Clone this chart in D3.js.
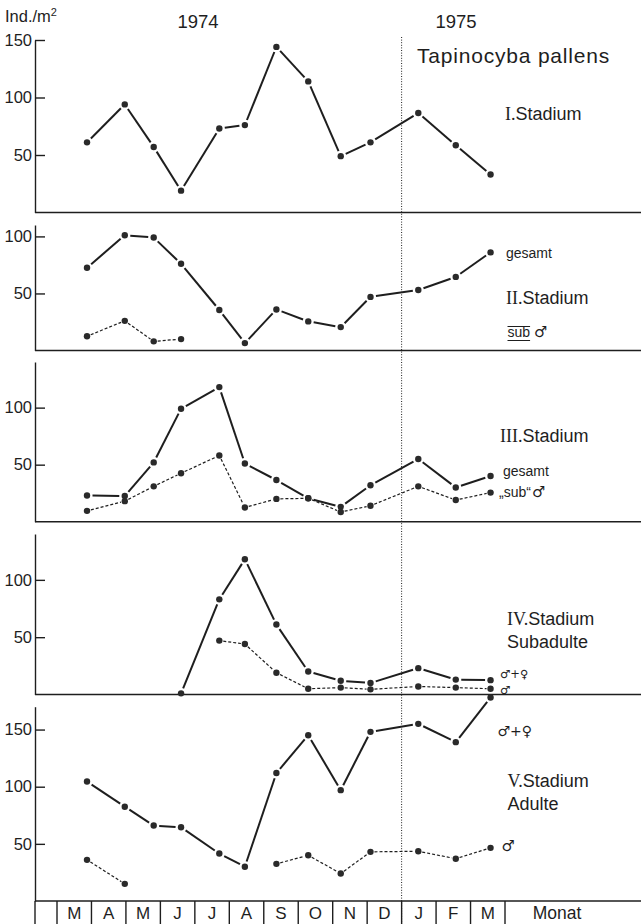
<!DOCTYPE html>
<html>
<head>
<meta charset="utf-8">
<script src="https://cdn.jsdelivr.net/npm/d3@7"></script>
<style>
  html, body { margin: 0; padding: 0; background: #fff; }
  svg { display: block; }
  text { font-family: "Liberation Sans", Arial, sans-serif; fill: #1e1e1e; }
  text.sym { font-family: "DejaVu Sans"; }
</style>
</head>
<body>
<svg id="chart" width="641" height="924"></svg>
<script>
// ---------------- data ----------------
const months = ["M", "A", "M", "J", "J", "A", "S", "O", "N", "D", "J", "F", "M"];
const sampleDates = ["1974-03-28", "1974-04-30", "1974-05-26", "1974-06-19", "1974-07-23",
  "1974-08-15", "1974-09-12", "1974-10-10", "1974-11-08", "1974-12-04",
  "1975-01-16", "1975-02-17", "1975-03-19"];

const stageI      = [61, 94, 57, 19, 73, 76, 144, 114, 49, 61, 86.5, 58.5, 33];
const stageIIall  = [72.5, 101, 99, 76, 35.5, 6.5, 36, 25.5, 20.5, 47, 53, 64.5, 86];
const stageIIsub  = [12.5, 26, 8, 10, null, null, null, null, null, null, null, null, null];
const stageIIIall = [23, 22.5, 52, 99, 118, 51, 36.5, 20.5, 13, 32, 55, 30, 40];
const stageIIIsub = [9.5, 18, 31, 42.5, 58, 12.5, 20, 20.5, 8.5, 14, 31, 19, 25.5];
const stageIVall  = [null, null, null, 1, 83, 118, 61, 20, 12, 10, 23, 13, 12.5];
const stageIVmale = [null, null, null, null, 47, 44, 19, 5, 6, 4.5, 7, 6, 5];
const stageVall   = [104.5, 82.5, 66, 64.5, 41.5, 30, 112, 145, 97, 148, 155, 139, 178];
const stageVmale  = [36, 15, null, null, null, null, 32.5, 40, 24, 43, 43.5, 37, 46.5];

const ticksI = [50, 100, 150];
const ticksII = [50, 100];
const ticksIII = [50, 100];
const ticksIV = [50, 100];
const ticksV = [50, 100, 150];

// ---------------- helpers ----------------
function monthPos(s) {
  const [yy, mm, dd] = s.split("-").map(Number);
  const idx = (yy - 1974) * 12 + (mm - 1) - 2;
  const dim = new Date(yy, mm, 0).getDate();
  return idx + (dd - 1) / dim;
}
const xPos = sampleDates.map(monthPos);

const svg = d3.select("#chart");
const W = 641, axisX = 35;
const x = d3.scaleLinear().domain([0, months.length]).range([57, 505]);
const ink = "#1e1e1e";
const MALE = "\u2642\uFE0E", FEMALE = "\u2640\uFE0E";

const panels = [
  { top: 40,    bottom: 212.5, max: 150, ticks: ticksI,
    series: [{ v: stageI, dash: false }] },
  { top: 225,   bottom: 350.5, max: 110, ticks: ticksII,
    series: [{ v: stageIIall, dash: false }, { v: stageIIsub, dash: true }] },
  { top: 362,   bottom: 521.7, max: 140, ticks: ticksIII,
    series: [{ v: stageIIIall, dash: false }, { v: stageIIIsub, dash: true }] },
  { top: 534,   bottom: 694.5, max: 140, ticks: ticksIV,
    series: [{ v: stageIVall, dash: false }, { v: stageIVmale, dash: true }] },
  { top: 706.7, bottom: 901,   max: 170, ticks: ticksV,
    series: [{ v: stageVall, dash: false }, { v: stageVmale, dash: true }] }
];

// dotted 1974/1975 divider
svg.append("line")
  .attr("x1", x(10)).attr("x2", x(10))
  .attr("y1", 37).attr("y2", 924)
  .attr("stroke", ink).attr("stroke-width", 1)
  .attr("stroke-dasharray", "1,1.6");

panels.forEach(p => {
  const y = d3.scaleLinear().domain([0, p.max]).range([p.bottom, p.top]);
  p.y = y;
  const g = svg.append("g").attr("transform", `translate(${axisX},0)`);
  g.call(d3.axisLeft(y).tickValues(p.ticks).tickSizeInner(-10).tickSizeOuter(0).tickPadding(3).tickFormat(d3.format("d")));
  g.select(".domain").attr("stroke", ink).attr("stroke-width", 1.4);
  g.selectAll(".tick line").attr("stroke", ink).attr("stroke-width", 1.4);
  g.selectAll(".tick text").attr("font-size", 16.5).attr("fill", ink)
    .attr("font-family", "Liberation Sans, Arial, sans-serif");
  svg.append("line").attr("x1", axisX).attr("x2", W)
    .attr("y1", y(0)).attr("y2", y(0))
    .attr("stroke", ink).attr("stroke-width", 1.4);

  p.series.forEach(s => {
    const gap = s.dash ? 4 : 5.5;
    for (let i = 0; i < s.v.length - 1; i++) {
      if (s.v[i] == null || s.v[i + 1] == null) continue;
      const x1 = x(xPos[i]), y1 = y(s.v[i]), x2 = x(xPos[i + 1]), y2 = y(s.v[i + 1]);
      const dx = x2 - x1, dy = y2 - y1, len = Math.hypot(dx, dy);
      if (len <= 2 * gap) continue;
      const ux = dx / len, uy = dy / len;
      svg.append("line")
        .attr("x1", x1 + ux * gap).attr("y1", y1 + uy * gap)
        .attr("x2", x2 - ux * gap).attr("y2", y2 - uy * gap)
        .attr("stroke", ink)
        .attr("stroke-width", s.dash ? 1.2 : 2)
        .attr("stroke-dasharray", s.dash ? "3,2" : null);
    }
    svg.append("g").selectAll("circle")
      .data(s.v.map((v, i) => ({ v, i })).filter(d => d.v != null))
      .join("circle")
      .attr("cx", d => x(xPos[d.i]))
      .attr("cy", d => y(d.v))
      .attr("r", 3.2)
      .attr("fill", "#2a2a2a");
  });
});

// ---------------- month axis ----------------
const mAxisTop = 901;
d3.range(months.length + 1).forEach(i => {
  svg.append("line").attr("x1", x(i)).attr("x2", x(i))
    .attr("y1", mAxisTop).attr("y2", 924)
    .attr("stroke", ink).attr("stroke-width", 1.4);
});
svg.append("line").attr("x1", axisX).attr("x2", axisX)
  .attr("y1", mAxisTop).attr("y2", 924)
  .attr("stroke", ink).attr("stroke-width", 1.4);
svg.append("g").selectAll("text").data(months).join("text")
  .attr("x", (d, i) => x(i + 0.5))
  .attr("y", 919)
  .attr("text-anchor", "middle")
  .attr("font-size", 17)
  .text(d => d);
svg.append("text").attr("x", 557).attr("y", 919).attr("text-anchor", "middle")
  .attr("font-size", 17.5).text("Monat");

// ---------------- titles / labels ----------------
const t1 = svg.append("text").attr("x", 5).attr("y", 22).attr("font-size", 16.5);
t1.append("tspan").text("Ind./m");
t1.append("tspan").attr("font-size", 11).attr("dy", -6).text("2");

svg.append("text").attr("x", 198).attr("y", 28).attr("text-anchor", "middle").attr("font-size", 18.5).text("1974");
svg.append("text").attr("x", 456).attr("y", 28).attr("text-anchor", "middle").attr("font-size", 18.5).text("1975");
svg.append("text").attr("x", 417).attr("y", 63).attr("font-size", 21).attr("letter-spacing", 0.8)
  .text("Tapinocyba pallens");

function stageLabel(xp, yp, roman) {
  const t = svg.append("text").attr("x", xp).attr("y", yp).attr("font-size", 18);
  t.append("tspan").attr("font-family", "Liberation Serif, Times New Roman, serif").text(roman + ".");
  t.append("tspan").text("Stadium");
  return t;
}
function small(xp, yp, str, fs) {
  return svg.append("text").attr("x", xp).attr("y", yp).attr("font-size", fs || 14).text(str);
}
function sym(xp, yp, str, fs) {
  return svg.append("text").attr("class", "sym").attr("x", xp).attr("y", yp)
    .attr("font-size", fs || 14).attr("fill", ink).text(str);
}

stageLabel(505, 120, "I");

small(506, 258, "gesamt");
stageLabel(506, 304, "II");
const subT = small(507.5, 336.5, "sub");
const sw = subT.node().getComputedTextLength();
svg.append("line").attr("x1", 507.5).attr("x2", 507.5 + sw).attr("y1", 326.5).attr("y2", 326.5)
  .attr("stroke", ink).attr("stroke-width", 1);
svg.append("line").attr("x1", 507.5).attr("x2", 507.5 + sw).attr("y1", 340.5).attr("y2", 340.5)
  .attr("stroke", ink).attr("stroke-width", 1);
sym(507.5 + sw + 4, 337, MALE, 15);

stageLabel(500, 442, "III");
small(503, 476, "gesamt");
const s3 = small(499, 497, "\u201Esub\u201C");
sym(499 + s3.node().getComputedTextLength() + 1, 497, MALE, 15);

stageLabel(507, 625, "IV");
svg.append("text").attr("x", 507).attr("y", 648).attr("font-size", 18).text("Subadulte");
sym(500, 678, MALE + "+" + FEMALE, 11.5);
sym(500, 694, MALE, 11.5);

sym(497.5, 736, MALE + "+" + FEMALE, 14);
stageLabel(507.5, 787, "V");
svg.append("text").attr("x", 507.5).attr("y", 810).attr("font-size", 18).text("Adulte");
sym(501.5, 851, MALE, 15);
</script>
</body>
</html>
